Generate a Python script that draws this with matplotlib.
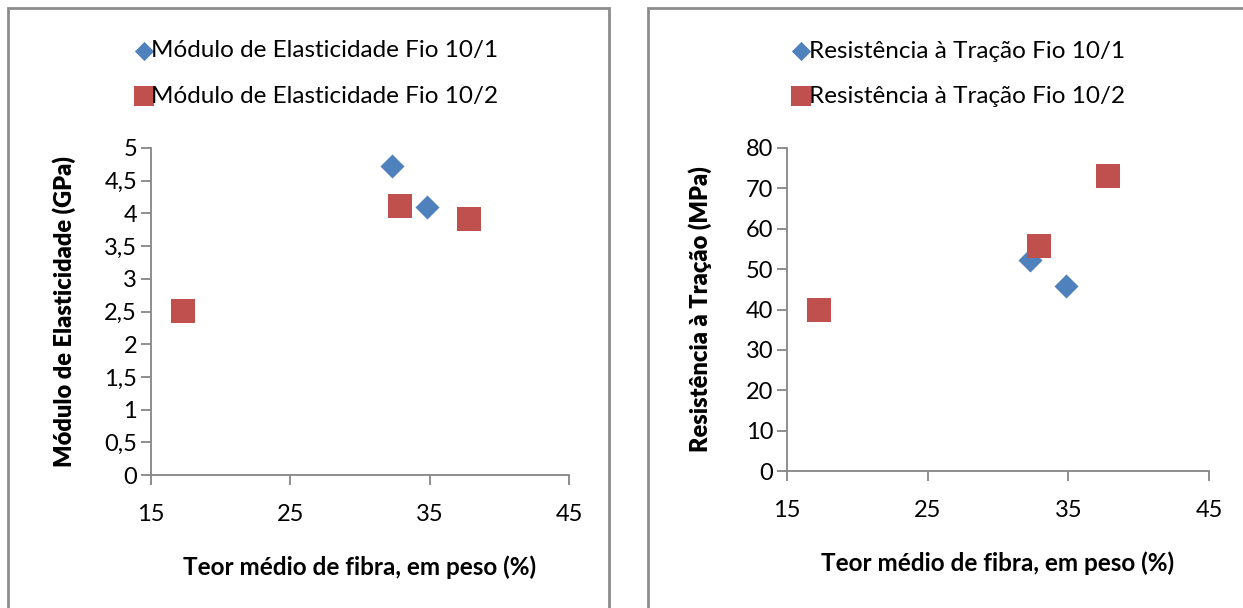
import matplotlib
matplotlib.use("Agg")
import matplotlib.pyplot as plt
from matplotlib.patches import Rectangle

plt.rcParams['font.family'] = ['Lato', 'DejaVu Sans']

# teor medio de fibra (%) e propriedades
fio1_teor = [32.3, 34.8]
fio1_modulo = [4.72, 4.10]
fio1_resist = [52.2, 45.8]

fio2_teor = [17.3, 32.9, 37.8]
fio2_modulo = [2.51, 4.11, 3.91]
fio2_resist = [39.9, 55.7, 73.0]

x_ticks = [15, 25, 35, 45]
mod_ticks = [0, 0.5, 1, 1.5, 2, 2.5, 3, 3.5, 4, 4.5, 5]
mod_labels = ["0", "0,5", "1", "1,5", "2", "2,5", "3", "3,5", "4", "4,5", "5"]
res_ticks = [0, 10, 20, 30, 40, 50, 60, 70, 80]

blue = "#4F81BD"
red = "#C0504D"
grey = "#868686"

fig = plt.figure(figsize=(12.43, 6.08), dpi=100)

# molduras dos dois graficos
for x0, w in [(8 / 1243, 601 / 1243), (648 / 1243, 640 / 1243)]:
    fig.patches.append(Rectangle((x0, -0.05), w, 1 - 8 / 608 + 0.05, transform=fig.transFigure,
                                 fill=False, edgecolor="#8c8c8c", linewidth=2))


def setup(ax, yticks, ylabels, ylim, ylabel, ypad):
    ax.set_xlim(15, 45)
    ax.set_ylim(*ylim)
    ax.set_xticks(x_ticks)
    ax.set_yticks(yticks)
    ax.set_yticklabels(ylabels)
    for s in ["top", "right"]:
        ax.spines[s].set_visible(False)
    for s in ["left", "bottom"]:
        ax.spines[s].set_color(grey)
        ax.spines[s].set_linewidth(1.3)
    ax.tick_params(axis="both", direction="out", length=7, width=1.3, color=grey,
                   labelsize=17)
    ax.tick_params(axis="x", pad=14)
    ax.tick_params(axis="y", pad=3)
    ax.set_ylabel(ylabel, fontsize=17, fontweight="heavy", labelpad=ypad)
    ax.set_xlabel("Teor médio de fibra, em peso (%)", fontsize=17.5, fontweight="bold", labelpad=22)


ax1 = fig.add_axes([151 / 1243, 1 - 475 / 608, 418 / 1243, 327 / 608])
ax1.scatter(fio1_teor, fio1_modulo, marker="D", s=150, color=blue, label="Módulo de Elasticidade Fio 10/1",
            zorder=3, linewidths=0)
ax1.scatter(fio2_teor, fio2_modulo, marker="s", s=300, color=red, label="Módulo de Elasticidade Fio 10/2",
            zorder=3, linewidths=0)
setup(ax1, mod_ticks, mod_labels, (0, 5), "Módulo de Elasticidade (GPa)", 20)
ax1.legend(loc="center", bbox_to_anchor=(0.39, 1.228), frameon=False, fontsize=17.5,
           handletextpad=-0.3, labelspacing=1.0, markerscale=0.8, handlelength=1.2)

ax2 = fig.add_axes([787 / 1243, 1 - 471 / 608, 422 / 1243, 323 / 608])
ax2.scatter(fio1_teor, fio1_resist, marker="D", s=150, color=blue, label="Resistência à Tração Fio 10/1",
            zorder=3, linewidths=0)
ax2.scatter(fio2_teor, fio2_resist, marker="s", s=300, color=red, label="Resistência à Tração Fio 10/2",
            zorder=3, linewidths=0)
setup(ax2, res_ticks, [str(t) for t in res_ticks], (0, 80), "Resistência à Tração (MPa)", 24)
ax2.legend(loc="center", bbox_to_anchor=(0.40, 1.23), frameon=False, fontsize=17.5,
           handletextpad=-0.3, labelspacing=1.0, markerscale=0.8, handlelength=1.2)

fig.savefig("out.png", dpi=100)
